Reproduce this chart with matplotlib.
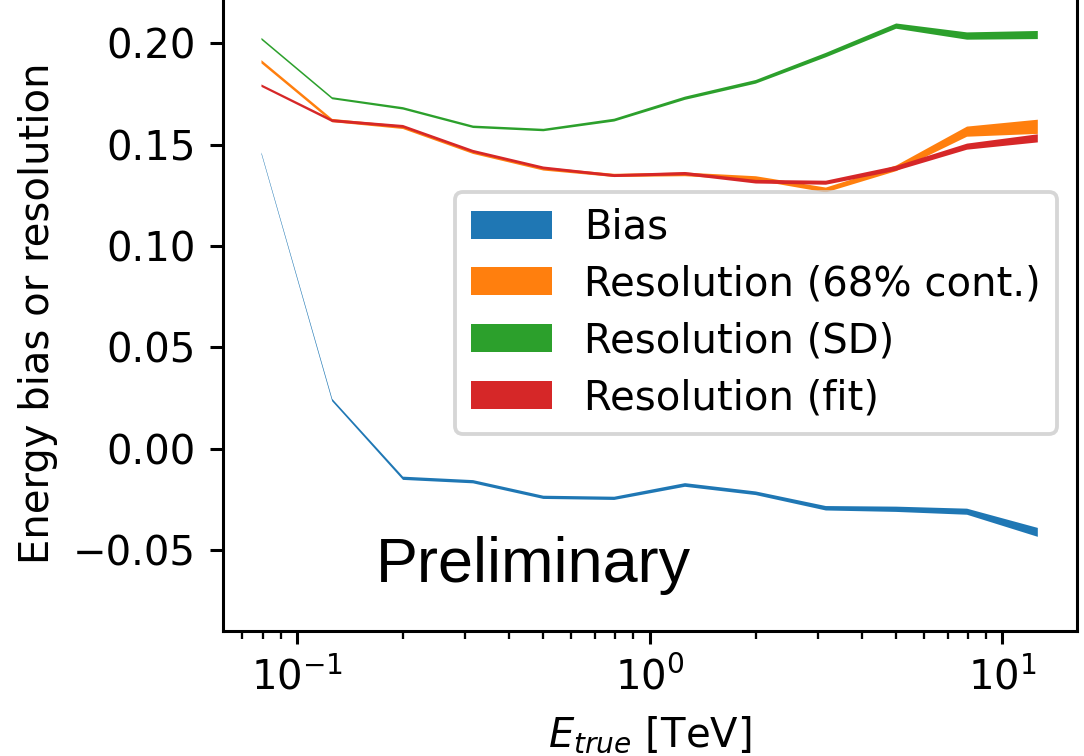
import matplotlib

matplotlib.use("Agg")
import matplotlib.pyplot as plt
import numpy as np

# True energy bin centres [TeV]
e_true = np.array([0.0794, 0.126, 0.2, 0.316, 0.5, 0.794, 1.26, 2.0, 3.16, 5.0, 7.94, 12.6])

# Energy bias and the three resolution estimates, with half-widths of the bands
bias = np.array([0.1457, 0.0239, -0.0147, -0.0164, -0.0241, -0.0246,
                 -0.0180, -0.0221, -0.0295, -0.0300, -0.0312, -0.0414])
bias_err = np.array([0.0004, 0.0006, 0.0008, 0.0008, 0.0008, 0.0008,
                     0.0009, 0.0009, 0.0011, 0.0013, 0.0015, 0.0022])

res_68 = np.array([0.1909, 0.1619, 0.1585, 0.1462, 0.1380, 0.1348,
                   0.1353, 0.1334, 0.1276, 0.1383, 0.1564, 0.1588])
res_68_err = np.array([0.0008, 0.0008, 0.0008, 0.0008, 0.0008, 0.0008,
                       0.0009, 0.0010, 0.0012, 0.0014, 0.0025, 0.0035])

res_sd = np.array([0.2022, 0.1729, 0.1679, 0.1588, 0.1572, 0.1621,
                   0.1729, 0.1810, 0.1942, 0.2085, 0.2036, 0.2041])
res_sd_err = np.array([0.0005, 0.0005, 0.0006, 0.0006, 0.0006, 0.0007,
                       0.0008, 0.0009, 0.0011, 0.0013, 0.0018, 0.0020])

res_fit = np.array([0.1791, 0.1618, 0.1590, 0.1467, 0.1385, 0.1347,
                    0.1357, 0.1317, 0.1312, 0.1383, 0.1490, 0.1531])
res_fit_err = np.array([0.0006, 0.0007, 0.0007, 0.0007, 0.0007, 0.0007,
                        0.0008, 0.0009, 0.0010, 0.0012, 0.0015, 0.0020])

series = [
    ("Bias", bias, bias_err),
    ("Resolution (68% cont.)", res_68, res_68_err),
    ("Resolution (SD)", res_sd, res_sd_err),
    ("Resolution (fit)", res_fit, res_fit_err),
]

plt.rcParams["font.size"] = 10.5

dpi = 275
fig = plt.figure(figsize=(1084 / dpi, 756 / dpi), dpi=dpi)
ax = fig.add_axes([0.2054, 0.1653, 0.7878, 0.8417])

for label, val, err in series:
    ax.fill_between(e_true, val - err, val + err, linewidth=0, label=label)

ax.set_xscale("log")
ax.set_ylim(-0.0901, 0.224)
ax.set_xlabel(r"$E_{true}$ [TeV]")
ax.set_ylabel("Energy bias or resolution")

ax.text(0.168, -0.0657, "Preliminary", fontsize=16.5, family="Liberation Sans",
        va="baseline")

ax.legend(loc="center right", labelspacing=0.42)

plt.savefig("out.png", dpi=dpi)
